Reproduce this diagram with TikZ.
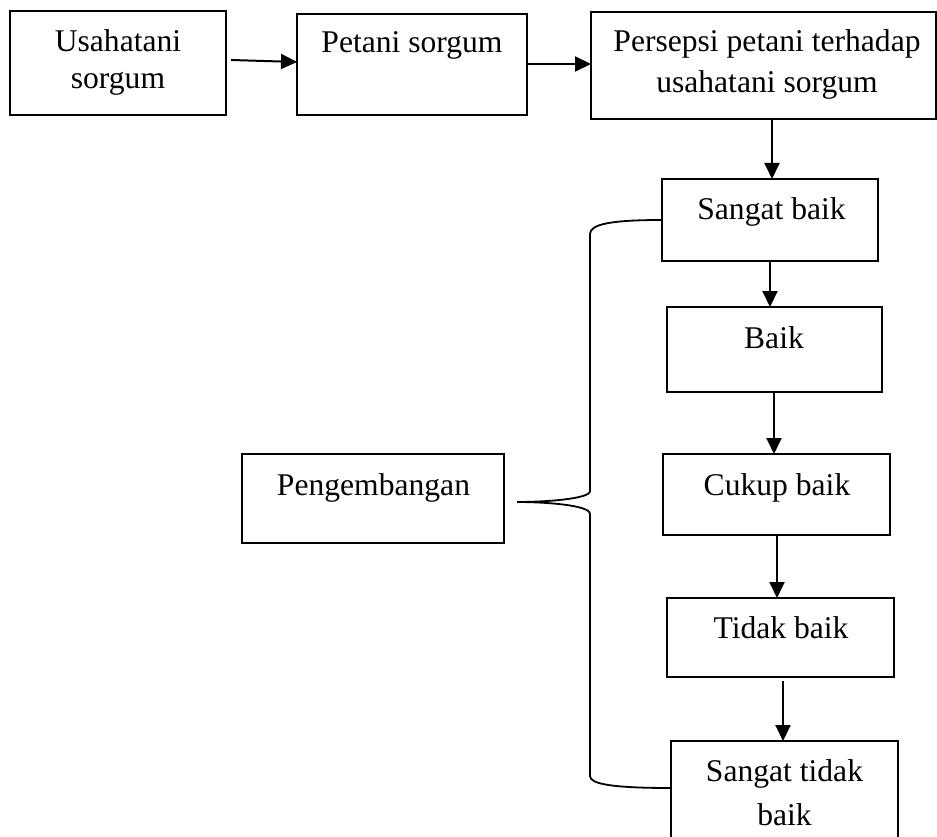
\documentclass[tikz,border=0pt]{standalone}
\usepackage{fontspec}
\setmainfont{Liberation Serif}
\usetikzlibrary{arrows.meta}
\tikzset{
  box/.style={draw=black, line width=1.8pt, rectangle, inner sep=0pt, outer sep=0pt},
  lbl/.style={anchor=base, inner sep=0pt, align=center, font=\fontsize{31.6}{38}\selectfont},
  arr/.style={draw=black, line width=2pt, -{Triangle[length=16pt,width=15pt]}},
  brace/.style={draw=black, line width=1.8pt}
}
\begin{document}
\begin{tikzpicture}[x=1pt,y=-1pt]
\useasboundingbox (0,0) rectangle (937,837);
% boxes
\node[box, minimum width=216pt, minimum height=104pt] (b1) at (118,63) {};
\node[box, minimum width=230pt, minimum height=101pt] (b2) at (412,64.5) {};
\node[box, minimum width=345pt, minimum height=107pt] (b3) at (763.5,65.5) {};
\node[box, minimum width=216pt, minimum height=82pt] (sb) at (770,220) {};
\node[box, minimum width=215pt, minimum height=85pt] (bk) at (774.5,349.5) {};
\node[box, minimum width=227pt, minimum height=81pt] (cb) at (776.5,494.5) {};
\node[box, minimum width=227pt, minimum height=79pt] (tb) at (780.5,637.5) {};
\node[box, minimum width=227pt, minimum height=110pt] (stb) at (784.5,796) {};
\node[box, minimum width=262pt, minimum height=89pt] (pg) at (373,498.5) {};
% texts (multi-line nodes: base anchor is on the last line)
\node[lbl, font=\fontsize{31.6}{37}\selectfont] (t1) at (118,89) {Usahatani\\sorgum};
\node[lbl] (t2) at (412,53) {Petani sorgum};
\node[lbl, font=\fontsize{31.6}{41}\selectfont] (t3) at (767,93) {Persepsi petani terhadap\\usahatani sorgum};
\node[lbl] (t4) at (771.5,220) {Sangat baik};
\node[lbl] (t5) at (774,348) {Baik};
\node[lbl] (t6) at (777,495) {Cukup baik};
\node[lbl] (t7) at (781,638) {Tidak baik};
\node[lbl, font=\fontsize{31.6}{44}\selectfont] (t8) at (784.5,825) {Sangat tidak\\baik};
\node[lbl] (t9) at (373.5,495) {Pengembangan};
% arrows
\draw[arr] ([xshift=5pt,yshift=3pt]b1.east) -- ([yshift=2.5pt]b2.west);
\draw[arr] ([yshift=0.5pt]b2.east) -- ([yshift=0.5pt]b2.east -| b3.west);
\draw[arr] ([xshift=8.5pt]b3.south) -- ([xshift=8.5pt]b3.south |- sb.north);
\draw[arr] (sb.south) -- (sb.south |- bk.north);
\draw[arr] ([xshift=-0.5pt]bk.south) -- ([xshift=-0.5pt]bk.south |- cb.north);
\draw[arr] ([xshift=0.5pt]cb.south) -- ([xshift=0.5pt]cb.south |- tb.north);
\draw[arr] ([xshift=2.5pt,yshift=-4pt]tb.south) -- ([xshift=2.5pt]tb.south |- stb.north);
% brace
\coordinate (tip) at (517,502);
\draw[brace] (sb.west) .. controls (612,220) and (590,224) .. (590,234)
  -- (590,491) .. controls (590,499) and (545,502) .. (tip)
  .. controls (545,502) and (590,505) .. (590,514)
  -- (590,776) .. controls (590,784) and (612,788) .. ([yshift=8pt]stb.west);
\end{tikzpicture}
\end{document}
